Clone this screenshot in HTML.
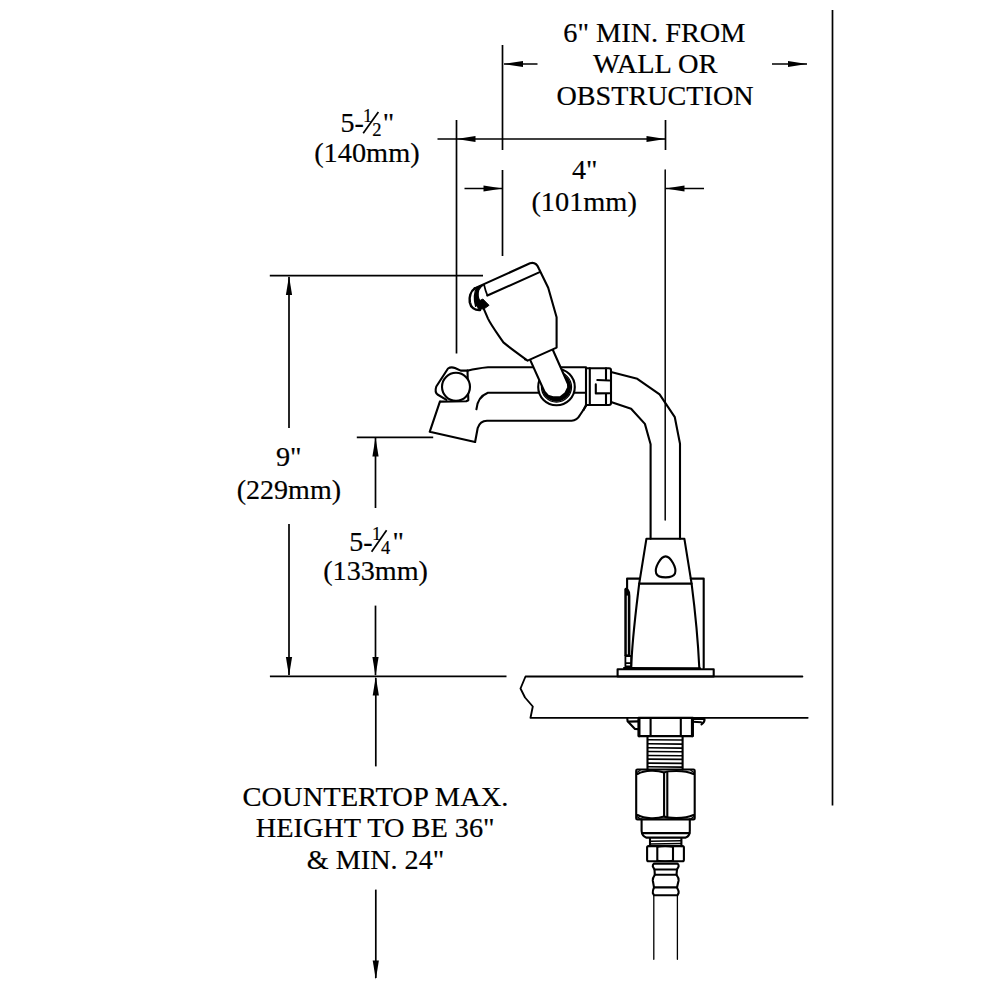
<!DOCTYPE html>
<html><head><meta charset="utf-8">
<style>
html,body{margin:0;padding:0;background:#fff;width:1000px;height:1000px;overflow:hidden}
svg{display:block}
text{font-family:"Liberation Serif",serif;fill:#000;stroke:#000;stroke-width:0.2}
</style></head><body>
<svg width="1000" height="1000" viewBox="0 0 1000 1000">
<rect width="1000" height="1000" fill="#fff"/>
<!-- DIMENSIONS -->
<g stroke="#000" stroke-width="1.7" fill="none" stroke-linecap="butt">
  <!-- wall -->
  <line x1="832.5" y1="10" x2="832.5" y2="805.5"/>
  <!-- 6in extension line at 502.5 -->
  <line x1="502.5" y1="45" x2="502.5" y2="150"/>
  <line x1="502.5" y1="170" x2="502.5" y2="256"/>
  <line x1="504" y1="64" x2="537.5" y2="64"/>
  <line x1="772" y1="64" x2="807" y2="64"/>
  <!-- 5-1/2 dim line -->
  <line x1="437.5" y1="139" x2="665.5" y2="139"/>
  <line x1="456.5" y1="120" x2="456.5" y2="353.5"/>
  <line x1="665.5" y1="120" x2="665.5" y2="150"/>
  <line x1="464.5" y1="188.5" x2="502.5" y2="188.5"/>
  <line x1="665.5" y1="188.5" x2="704" y2="188.5"/>
  <!-- 9 dim -->
  <line x1="269.8" y1="275.7" x2="483" y2="275.7"/>
  <line x1="289" y1="277" x2="289" y2="428"/>
  <line x1="289" y1="524" x2="289" y2="675"/>
  <line x1="356.8" y1="437.4" x2="433.2" y2="437.4"/>
  <line x1="375.5" y1="438" x2="375.5" y2="508"/>
  <line x1="375.5" y1="605.6" x2="375.5" y2="675"/>
  <line x1="269.9" y1="676.4" x2="506.5" y2="676.4"/>
  <line x1="375.8" y1="678" x2="375.8" y2="766.4"/>
  <line x1="375.8" y1="889.6" x2="375.8" y2="978"/>
</g>
<g fill="#000" stroke="none">
  <path d="M504 64 L523 60.9 L523 67.1Z"/>
  <path d="M807 64 L788 60.9 L788 67.1Z"/>
  <path d="M456.5 139 L475.5 135.9 L475.5 142.1Z"/>
  <path d="M665.5 139 L646.5 135.9 L646.5 142.1Z"/>
  <path d="M502.5 188.5 L483.5 185.4 L483.5 191.6Z"/>
  <path d="M665.5 188.5 L684.5 185.4 L684.5 191.6Z"/>
  <path d="M289 276 L285.9 295 L292.1 295Z"/>
  <path d="M289 676 L285.9 657 L292.1 657Z"/>
  <path d="M375.5 437.5 L372.4 456.5 L378.6 456.5Z"/>
  <path d="M375.5 676 L372.4 657 L378.6 657Z"/>
  <path d="M375.8 676.5 L372.7 695.5 L378.9 695.5Z"/>
  <path d="M375.8 979.5 L372.7 960.5 L378.9 960.5Z"/>
</g>
<!-- TEXT -->
<g font-size="28">
  <text transform="matrix(1.0107 0 0 1 563.29 41.5)">6" MIN. FROM</text>
  <text transform="matrix(1.0163 0 0 1 593.00 73.4)">WALL OR</text>
  <text transform="matrix(1.0062 0 0 1 556.39 104.5)">OBSTRUCTION</text>
  <text transform="matrix(1.0118 0 0 1 314.19 161.6)">(140mm)</text>
  <text transform="matrix(1.0000 0 0 1 572.00 178.6)">4"</text>
  <text transform="matrix(1.0127 0 0 1 531.39 211.0)">(101mm)</text>
  <text transform="matrix(1.0087 0 0 1 275.99 466.3)">9"</text>
  <text transform="matrix(1.0000 0 0 1 236.80 498.8)">(229mm)</text>
  <text transform="matrix(1.0059 0 0 1 323.19 580.0)">(133mm)</text>
  <text transform="matrix(1.0189 0 0 1 242.48 805.6)">COUNTERTOP MAX.</text>
  <text transform="matrix(1.0124 0 0 1 255.69 837.4)">HEIGHT TO BE 36"</text>
  <text transform="matrix(1.0060 0 0 1 306.79 869.2)">&amp; MIN. 24"</text>
  <!-- 5-1/2 -->
  <text x="340.4" y="132.4">5-</text>
  <text x="363" y="122.4" font-size="18.5">1</text>
  <text x="372.3" y="135.6" font-size="18.5">2</text>
  <text x="382.8" y="132.4">"</text>
  <!-- 5-1/4 -->
  <text x="349.2" y="550.6">5-</text>
  <text x="372" y="540.4" font-size="18.5">1</text>
  <text x="381" y="554.2" font-size="18.5">4</text>
  <text x="392.5" y="550.6">"</text>
</g>
<g stroke="#000" stroke-width="1.7">
  <line x1="363.2" y1="133.2" x2="378.4" y2="112"/>
  <line x1="371.6" y1="551.8" x2="386.6" y2="530.2"/>
</g>
<!-- FAUCET -->

<g id="faucet" stroke="#000" stroke-width="2.1" fill="none" stroke-linejoin="round" stroke-linecap="round">
  <!-- tube -->
  <path d="M611,372.1 L637.3,378.8 L659.6,394.4 L674.8,417.2 L680,443.8 L680,538.8"/>
  <path d="M611,402 L631.1,408.7 L644.9,423.9 L650.6,444.3 L650.6,538.8"/>
  <line x1="665.2" y1="170" x2="665.2" y2="520" stroke-width="1.5"/>
  <!-- body -->
  <path d="M468.3,370.6 Q476,368.3 488,367.2 L586,367.2"/>
  <path d="M476.4,409.3 Q477.5,397 487.9,392.8 L586,392.8"/>
  <path d="M475.1,442 L477.7,428 Q480,421 487,420.8 L571.6,420.8 Q577,420.5 580,415 L586,406"/>
  <path d="M439.9,401.6 L429.7,431.8 L475.1,442"/>
  <!-- nut -->
  <path d="M467.5,370.6 L460.7,370.6 L455,368 Q451,366.5 448,368.5 L436.3,386.5 Q434.5,392 437.5,394.5 L446.5,399.8"/>
  <path d="M467.5,370.6 L468.3,400.2 L466.2,401.3 L440.3,401.6"/>
  <circle cx="456" cy="386.8" r="14" fill="#fff"/>
  <!-- hub circles -->
  <circle cx="556.5" cy="387" r="18.3" fill="#fff"/>
  <circle cx="556.5" cy="387" r="14.6" fill="#000" stroke="none"/>
  <circle cx="556.5" cy="387" r="15" stroke-width="1.3"/>
  <!-- stem -->
  <path d="M527.6,360.6 L530.5,360.6 L544.5,391.8 L548,395.8 L553,397.3 L560.5,397 L565.5,393 L568.2,387.5 L568,384 L553,350.2 L556.9,347.6 Z" fill="#fff" stroke="none"/>
  <path d="M530.5,360.6 L544.5,391.8 L548,395.8 L553,397.3 L560.5,397 L565.5,393 L568.2,387.5 L568,384 L553,350.2"/>
  <!-- head -->
  <path d="M474.5,288.4 L530,263.3 Q536,261.5 538.8,268.5 L548.2,287.8 L556.6,317.2 L556.6,347.6 L527.6,360.6 L525,359.3 M527.6,360.6 C520,355 510,348 503.4,342.4 C497,333 491,325 488,318.6 L483.8,308.8" fill="none"/>
  <path d="M487.4,295.5 L539.1,272.4"/>
  <path d="M475,288.2 C470,291.5 469.2,298 469.8,302.2 C470.8,307.8 475,310.4 480,310.1" stroke-width="2.5"/>
  <path d="M476.8,287.2 C474.2,292 473.8,300 475.6,306.5 L480,301.5 C478.2,298 477.8,293 478.8,290 C479.8,287.5 482,285.5 484,284.6 Z" fill="#000" stroke-width="1.2"/>
  <path d="M484.2,285.2 C485,289 486,292 487.4,295.4" stroke-width="1.7"/>
  <path d="M480.2,300.4 L482.8,299 L489,305.3 L484.5,308.6 L478.5,309.5 L477,305Z" fill="#000" stroke-width="1"/>
  <!-- collar -->
  <path d="M586,368.2 L609,368.2 Q611,368.2 611,370.2 L611,403 Q611,405 609,405 L586,405 Z" fill="#fff"/>
  <line x1="589.8" y1="368.2" x2="589.8" y2="405"/>
  <line x1="606" y1="368.2" x2="606" y2="379.3"/>
  <line x1="606" y1="394" x2="606" y2="405"/>
  <path d="M597.3,380 L609.5,380.5"/>
  <path d="M595.8,384.3 L595.8,393.4 L609.5,393.2"/>
  <line x1="586" y1="405" x2="583.5" y2="410"/>
  <!-- base -->
  <path d="M646.4,538.8 L684.4,538.8 L691.6,583.6 L639.2,583.6 Z"/>
  <path d="M665.6,556.4 C668.5,556.4 670.5,558.5 673,563 C675.5,567.5 676,570.5 675,573.5 C673.5,576.5 669,577.4 665.6,577.4 C662,577.4 657.5,576.5 656.2,573.5 C655.2,570.5 655.7,567.5 658.2,563 C660.7,558.5 662.7,556.4 665.6,556.4 Z"/>
  <path d="M639.2,583.6 C636,610 632,640 631.2,668"/>
  <path d="M691.6,583.6 C695,610 698,640 699.3,668"/>
  <path d="M627.1,588 L627.1,578.6 L640,578.6"/>
  <path d="M690.8,578.6 L703.7,578.6 L703.7,668"/>
  <path d="M624.3,656 L624.3,589 Q624.8,587.5 626.3,587.5 L628.2,588.5 Q630.4,591 630.4,596 L630.4,656 Z" fill="#000" stroke="none"/>
  <path d="M627.3,596 L627.3,654" stroke="#fff" stroke-width="1"/>
  <path d="M625.4,656 L625.4,666.5 L631.2,666.5 L631.2,656 Z M625.4,663.2 L631.2,663.2" stroke-width="1.8"/>
  <line x1="624" y1="668" x2="700" y2="668.4"/>
  <rect x="617.6" y="669.3" width="96.1" height="7.2"/>
  <!-- countertop -->
  <path d="M802.4,676.5 L525.5,676.5 L520.5,688.5 L525,697.5 L532.8,706.5 L530.5,717.8 L807.7,717.8" stroke-width="1.85"/>
  <!-- lock nut -->
  <rect x="638.5" y="717.9" width="54.4" height="18.2"/>
  <path d="M639.2,719 L639.2,736 M692.2,719 L692.2,736" stroke-width="2.6"/>
  <line x1="650.6" y1="718" x2="650.6" y2="736"/>
  <line x1="680.8" y1="718" x2="680.8" y2="736"/>
  <path d="M627.3,718.6 L627.6,721.3 L635,728.9 L638.6,729.3"/>
  <path d="M628.5,721.6 L638.5,721.4"/>
  <path d="M692.9,719 L704.5,719 Q705,722 701.5,724.3"/>
  <path d="M692.9,721.8 L701,722.2"/>
  <!-- thread -->
  <path d="M647.5,736.1 L647.5,769.4 M682.6,736.1 L682.6,769.4"/>
  <g stroke-width="1.6">
  <path d="M648,739.7 L682,740 M648,743.8 L682,744.1 M648,747.8 L682,748.1 M648,751.5 L682,751.8 M648,755.5 L682,755.8 M648,759.1 L682,759.4 M648,763.1 L682,763.4 M648,766.8 L682,767.1"/>
  </g>
  <!-- hex nut -->
  <rect x="636.2" y="769.5" width="58.5" height="49.9" rx="1.2"/>
  <path d="M664.1,772.5 L664.1,816.5 M667.3,772.5 L667.3,816.5"/>
  <path d="M637.5,774 C645,770 657,770 664.1,772.5 C667,771 684,769.5 693.5,774"/>
  <path d="M637.5,815 C645,819 657,819 664.1,816.5 C667,818 684,819.5 693.5,815"/>
  <path d="M636.8,772.5 L640,770.5 M694,772.5 L691,770.5 M636.8,816.5 L640,818.7 M694,816.5 L691,818.7" stroke-width="1.4"/>
  <!-- collar below hex -->
  <path d="M641.6,819.4 L641.6,831 Q642,836 646.1,837.6 L685.7,837.6 Q689.8,836 689.8,831 L689.8,819.4"/>
  <line x1="642" y1="833.1" x2="689.5" y2="833.1"/>
  <!-- neck -->
  <path d="M650,838.4 L650,846.1 M681.4,838.4 L681.4,846.1"/>
  <path d="M650.5,841.2 L681,840.8 M650.5,844 L681,843.6" stroke-width="1.5"/>
  <!-- small hex -->
  <rect x="647.1" y="846.1" width="36.8" height="15.1" rx="1.5"/>
  <path d="M657.3,846.5 L657.3,861 M673,846.5 L673,861"/>
  <path d="M657.3,847 Q665,845.5 673,847 M657.3,860.5 Q665,862 673,860.5" stroke-width="1.3"/>
  <!-- barb -->
  <path d="M654,863.6 L677.5,863.6 Q679,865 678.6,866.5 L677,869.5 L676.5,874.8 Q679,878 678.6,880.5 L677,887.4 Q679,891 678.6,893 L677.5,895.3 L654,895.3 L652.8,893 Q652.5,891 654,887.4 L652.8,880.5 Q652.5,878 654.8,874.8 L654.5,869.5 L652.8,866.5 Q652.5,865 654,863.6 Z"/>
  <path d="M654.5,869.5 L677,869.5 M654.8,874.8 L676.5,874.8 M654,887.4 L677,887.4"/>
  <!-- hose -->
  <path d="M653.8,895.5 L653.8,959.3 M677.4,895.5 L677.4,959.3" stroke-width="1.3"/>
</g>

</svg>
</body></html>
